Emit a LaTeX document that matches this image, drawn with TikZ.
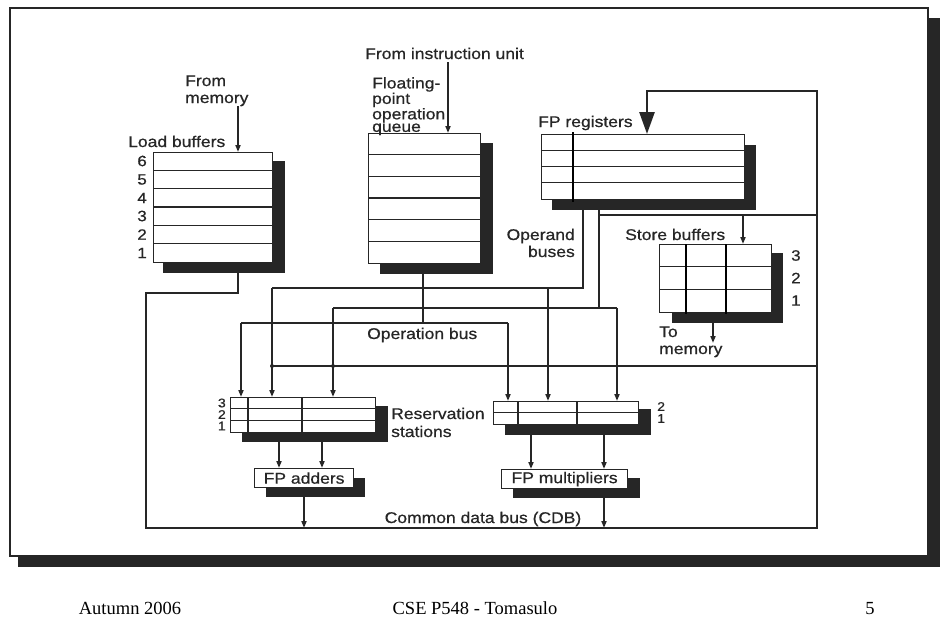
\documentclass[tikz,border=0pt]{standalone}
\usepackage{fontspec}
\usetikzlibrary{arrows.meta}
\newfontfamily\diagfont[FakeStretch=1.13,FakeBold=0.6]{Liberation Sans}
\newfontfamily\footfont{Liberation Serif}
\tikzset{
  bus/.style={line width=1.8pt, draw=black!85},
  arr/.style={bus, -{Triangle[length=7pt,width=5pt]}},
  bigarr/.style={line width=2.6pt, draw=black!85, -{Triangle[length=22pt,width=15pt]}},
  regbox/.style={draw=black!85, line width=1.2pt, fill=white, inner sep=0pt, anchor=north west},
  shade/.style={fill=black!85},
  rowline/.style={draw=black!85, line width=1.1pt},
  overlay/.style={draw=black, line width=2.6pt},
  lbl/.style={font=\diagfont\fontsize{15.5}{15.5}\selectfont, inner sep=0pt, text=black!85},
  num/.style={font=\diagfont\fontsize{15}{15}\selectfont, inner sep=0pt, text=black!85},
  snum/.style={font=\diagfont\fontsize{12.5}{12.5}\selectfont, inner sep=0pt, text=black!85},
  foot/.style={font=\footfont\fontsize{18.5}{18.5}\selectfont, inner sep=0pt, anchor=base},
  dot/.style={circle, fill=black!85, inner sep=0pt, minimum size=4pt}
}
\begin{document}
\begin{tikzpicture}[x=1pt,y=-1pt]
\useasboundingbox[fill=white] (0,0) rectangle (948,630);
% outer frame with shadow
\fill[shade] (928,18) rectangle (940,567);
\fill[shade] (18,556) rectangle (940,567);
\draw[line width=1.5pt, draw=black!85, fill=white] (10,8) rectangle (928,556);

% ---------- Load buffers
\fill[shade] (163,161) rectangle (285,273);
\node[regbox, minimum width=119pt, minimum height=110pt] (lb) at (153,152) {};
\foreach \y in {170.3,188.7,207,225.3,243.7} \draw[rowline] (153,\y) -- (272,\y);
\foreach \n/\y in {6/161,5/179.5,4/198,3/216,2/234.5,1/253}
  \node[num, anchor=east] (lbn\n) at (147,\y) {\n};
\node[lbl, anchor=base west] (lbt) at (128,147) {Load buffers};
\node[lbl, anchor=base west] (fm1) at (185,86) {From};
\node[lbl, anchor=base west] (fm2) at (185,103) {memory};
\coordinate (fmin) at (238,106);
\draw[arr] (fmin) -- (238,152);

% ---------- FP operation queue
\fill[shade] (380,143) rectangle (493,274);
\node[regbox, minimum width=112pt, minimum height=130pt] (oq) at (368,133) {};
\foreach \y in {154.7,176.3,198,219.7,241.3} \draw[rowline] (368,\y) -- (480,\y);
\node[lbl, anchor=base west] (fiu) at (365,59) {From instruction unit};
\node[lbl, anchor=north west, align=left,
      font=\diagfont\fontsize{15.5}{12.5}\selectfont] (oqt) at (372,77)
      {Floating-\\point\\operation\\queue};
\coordinate (fiuin) at (448,62);
\draw[arr] (fiuin) -- (448,133);

% ---------- FP registers
\fill[shade] (552,145) rectangle (756,210);
\node[regbox, minimum width=203pt, minimum height=65pt] (fr) at (541,134) {};
\foreach \y in {150.25,166.5,182.75} \draw[rowline] (541,\y) -- (744,\y);
\draw[overlay] (573,132) -- (573,202);
\node[lbl, anchor=base west] (frt) at (538,127) {FP registers};

% ---------- Store buffers
\fill[shade] (672,253) rectangle (783,323);
\node[regbox, minimum width=112pt, minimum height=68pt] (sb) at (659,244) {};
\foreach \y in {266.7,289.3} \draw[rowline] (659,\y) -- (771,\y);
\draw[overlay] (686,244) -- (686,314);
\draw[overlay] (726,244) -- (726,314);
\foreach \n/\y in {3/255.5,2/278,1/300.5}
  \node[num, anchor=west] (sbn\n) at (791,\y) {\n};
\node[lbl, anchor=base west] (sbt) at (625,240) {Store buffers};
\node[lbl, anchor=base west] (tm1) at (659,337) {To};
\node[lbl, anchor=base west] (tm2) at (659,354) {memory};
\draw[arr] (713,323) -- (713,343);

% ---------- Reservation stations (adders)
\fill[shade] (242,406) rectangle (388,442);
\node[regbox, minimum width=145pt, minimum height=35pt] (rsa) at (230,397) {};
\foreach \y in {408.7,420.3} \draw[rowline] (230,\y) -- (375,\y);
\foreach \x in {248,302} \draw[rowline] (\x,397) -- (\x,432);
\foreach \n/\y in {3/403,2/414.5,1/426}
  \node[snum, anchor=east] (rsan\n) at (226,\y) {\n};
\node[lbl, anchor=base west] (rst1) at (391,419) {Reservation};
\node[lbl, anchor=base west] (rst2) at (391,437) {stations};

% ---------- Reservation stations (multipliers)
\fill[shade] (505,409) rectangle (651,435);
\node[regbox, minimum width=145pt, minimum height=23pt] (rsm) at (493,401) {};
\draw[rowline] (493,412.5) -- (638,412.5);
\foreach \x in {518,577} \draw[rowline] (\x,401) -- (\x,424);
\foreach \n/\y in {2/406.5,1/418.5}
  \node[snum, anchor=west] (rsmn\n) at (657,\y) {\n};

% ---------- FP adders / multipliers
\fill[shade] (266,478) rectangle (365,497);
\node[regbox, minimum width=99pt, minimum height=19pt] (fpa) at (254,468) {};
\node[lbl] (fpat) at (fpa.center) {FP adders};
\fill[shade] (513,478) rectangle (640,498);
\node[regbox, minimum width=126pt, minimum height=19pt] (fpm) at (501,469) {};
\node[lbl] (fpmt) at (fpm.center) {FP multipliers};

% ---------- Buses
% CDB loop
\draw[bus] (238,273) -- (238,293) -- (146,293) -- (146,528) -- (817,528) -- (817,91) -- (647,91);
\draw[bigarr] (647,90) -- (647,134);
\draw[bus] (817,215) -- (599,215);
\draw[arr] (743,215) -- (743,244);
\draw[bus] (272,366) -- (817,366);
\node[dot] (j1) at (272,366) {};
\node[dot] (j2) at (333,366) {};
% operand bus A
\draw[bus] (583,210) -- (583,288) -- (272,288);
\draw[arr] (272,288) -- (272,397);
\draw[arr] (548,288) -- (548,401);
% operand bus B
\draw[bus] (599,210) -- (599,308);
\draw[bus] (333,308) -- (617,308);
\draw[arr] (333,308) -- (333,397);
\draw[arr] (617,308) -- (617,401);
% operation bus
\draw[bus] (423,274) -- (423,323);
\draw[bus] (241,323) -- (508,323);
\draw[arr] (241,323) -- (241,397);
\draw[arr] (508,323) -- (508,401);
% RS to units
\draw[arr] (279,442) -- (279,468);
\draw[arr] (322,442) -- (322,468);
\draw[arr] (531,435) -- (531,469);
\draw[arr] (604,435) -- (604,469);
\draw[arr] (304,497) -- (304,528);
\draw[arr] (604,498) -- (604,528);

\node[lbl, anchor=base east] (ob1) at (575,240) {Operand};
\node[lbl, anchor=base east] (ob2) at (575,257) {buses};
\node[lbl, anchor=base west] (opb) at (367,339) {Operation bus};
\node[lbl, anchor=base] (cdb) at (483,523) {Common data bus (CDB)};

% ---------- footer
\node[foot] (f1) at (130,614) {Autumn 2006};
\node[foot] (f2) at (475,614) {CSE P548 - Tomasulo};
\node[foot] (f3) at (870,614) {5};
\end{tikzpicture}
\end{document}
